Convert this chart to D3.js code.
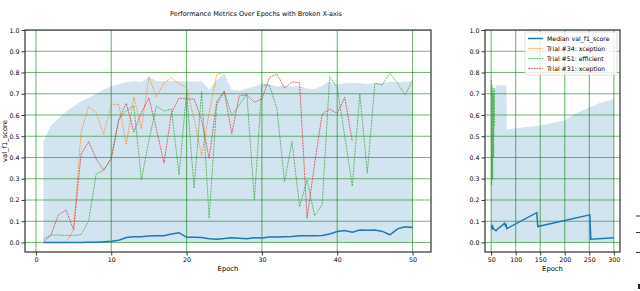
<!DOCTYPE html>
<html>
<head>
<meta charset="utf-8">
<script src="https://cdnjs.cloudflare.com/ajax/libs/d3/7.8.5/d3.min.js"></script>
<style>
  body { margin: 0; background: #fff; }
  text { font-family: "DejaVu Sans", sans-serif; fill: #000; }
</style>
</head>
<body>
<div id="chart"></div>
<script>
// Data
var epochsLeft = d3.range(1, 51);
var medianLeft = [0.0, 0.0, 0.0, 0.0, 0.0, 0.0, 0.001, 0.001, 0.003, 0.006,
    0.01, 0.023, 0.027, 0.027, 0.03, 0.031, 0.032, 0.04, 0.046, 0.024,
    0.024, 0.023, 0.017, 0.015, 0.018, 0.022, 0.02, 0.017, 0.022, 0.021,
    0.026, 0.026, 0.027, 0.028, 0.031, 0.032, 0.032, 0.033, 0.04, 0.051,
    0.056, 0.048, 0.058, 0.057, 0.058, 0.052, 0.036, 0.064, 0.074, 0.07];
var upperLeft = [0.48, 0.55, 0.585, 0.615, 0.64, 0.665, 0.68, 0.7, 0.72, 0.735,
    0.745, 0.755, 0.76, 0.755, 0.78, 0.76, 0.76, 0.76, 0.76, 0.757,
    0.757, 0.76, 0.717, 0.765, 0.796, 0.717, 0.714, 0.725, 0.733, 0.749,
    0.746, 0.733, 0.738, 0.733, 0.736, 0.725, 0.722, 0.736, 0.757, 0.744,
    0.749, 0.75, 0.749, 0.746, 0.749, 0.749, 0.757, 0.754, 0.757, 0.757];
var trial34 = [0.0, 0.0, 0.0, 0.0, 0.06, 0.52, 0.64, 0.61, 0.51, 0.65,
    0.65, 0.46, 0.685, 0.535, 0.78, 0.685, 0.75, 0.776, 0.745, 0.73,
    0.58, 0.41, 0.61, 0.79, 0.8];
var trial51 = [0.015, 0.035, 0.035, 0.033, 0.033, 0.037, 0.1, 0.322, 0.34, 0.395,
    0.58, 0.62, 0.643, 0.295, 0.48, 0.642, 0.618, 0.628, 0.318, 0.705,
    0.255, 0.71, 0.114, 0.647, 0.71, 0.597, 0.647, 0.7, 0.2, 0.74,
    0.74, 0.63, 0.286, 0.475, 0.168, 0.294, 0.126, 0.176, 0.78, 0.73,
    0.5, 0.265, 0.7, 0.326, 0.75, 0.742, 0.796, 0.75, 0.694, 0.765];
var trial31 = [0.0, 0.035, 0.13, 0.153, 0.06, 0.415, 0.475, 0.393, 0.34, 0.396,
    0.577, 0.655, 0.52, 0.61, 0.68, 0.534, 0.373, 0.61, 0.68, 0.675,
    0.675, 0.576, 0.395, 0.663, 0.712, 0.512, 0.69, 0.695, 0.66, 0.675,
    0.777, 0.793, 0.727, 0.755, 0.752, 0.114, 0.37, 0.605, 0.627, 0.608,
    0.683, 0.476];

// Right panel (epochs 50+)
var medianRightEpochs = [50, 51, 52, 53, 55, 57, 60, 65, 70, 75, 77, 79, 80, 82, 143, 145, 251, 253, 300];
var medianRight = [0.07, 0.075, 0.06, 0.075, 0.065, 0.06, 0.055, 0.068, 0.075, 0.085, 0.09, 0.08, 0.088, 0.065, 0.14, 0.075, 0.13, 0.015, 0.022];
var upperRightEpochs = [50, 60, 61, 81, 82, 100, 130, 160, 190, 200, 210, 230, 250, 270, 300];
var upperRight = [0.725, 0.725, 0.74, 0.74, 0.532, 0.537, 0.545, 0.555, 0.57, 0.575, 0.59, 0.615, 0.635, 0.655, 0.675];
var trial51RightEpochs = [50, 51, 52, 53, 54, 55, 56, 57];
var trial51Right = [0.765, 0.27, 0.74, 0.3, 0.7, 0.4, 0.725, 0.55];

var yTicks = [0.0, 0.1, 0.2, 0.3, 0.4, 0.5, 0.6, 0.7, 0.8, 0.9, 1.0];
var leftTicks = [0, 10, 20, 30, 40, 50];
var rightTicks = [50, 100, 150, 200, 250, 300];

var legendNames = ["Median val_f1_score", "Trial #34: xception", "Trial #51: efficient", "Trial #31: xception"];
var legendColors = ["#1f77b4", "#ff7f0e", "#2ca02c", "#d62728"];

// Set chart parameters
var svgWidth = 640;
var svgHeight = 291;
var plotTop = 30, plotBottom = 252;

var svg = d3.select("#chart")
    .append("svg")
    .attr("width", svgWidth)
    .attr("height", svgHeight);

var yScale = d3.scaleLinear().domain([-0.045, 1.0]).range([plotBottom, plotTop]);

var xLeft = d3.scaleLinear().domain([-1.45, 52.45]).range([25, 431]);
var xRight = d3.scaleLinear().domain([37.5, 312.5]).range([485, 620]);

function zip(xs, ys) {
    return ys.map(function(v, i) { return {e: xs[i], v: v}; });
}

function drawPanel(id, x, ticks, parts) {
    var x0 = x.range()[0], x1 = x.range()[1];
    var g = svg.append("g");

    svg.append("clipPath").attr("id", id)
        .append("rect")
        .attr("x", x0).attr("y", plotTop)
        .attr("width", x1 - x0).attr("height", plotBottom - plotTop);

    var plot = g.append("g").attr("clip-path", "url(#" + id + ")");

    // band
    var area = d3.area()
        .x(d => x(d.e))
        .y0(yScale(0))
        .y1(d => yScale(d.v));
    plot.append("path")
        .datum(parts.band)
        .attr("d", area)
        .attr("fill", "#1f77b4")
        .attr("fill-opacity", 0.2);

    // grid
    plot.selectAll(".hgrid").data(yTicks).enter().append("line")
        .attr("x1", x0).attr("x2", x1)
        .attr("y1", d => yScale(d)).attr("y2", d => yScale(d))
        .attr("stroke", "green").attr("stroke-opacity", 0.55).attr("stroke-width", 1.1);
    plot.selectAll(".vgrid").data(ticks).enter().append("line")
        .attr("x1", d => x(d)).attr("x2", d => x(d))
        .attr("y1", plotTop).attr("y2", plotBottom)
        .attr("stroke", "green").attr("stroke-opacity", 0.55).attr("stroke-width", 1.1);

    var line = d3.line().x(d => x(d.e)).y(d => yScale(d.v));

    // trials
    parts.trials.forEach(function(t) {
        plot.append("path")
            .datum(t.data)
            .attr("d", line)
            .attr("fill", "none")
            .attr("stroke", t.color)
            .attr("stroke-width", 0.9)
            .attr("stroke-opacity", 0.75)
            .attr("stroke-dasharray", "2,0.8");
    });

    // median
    plot.append("path")
        .datum(parts.median)
        .attr("d", line)
        .attr("fill", "none")
        .attr("stroke", "#1f77b4")
        .attr("stroke-width", 1.5);

    // axes
    var bottomAxis = d3.axisBottom(x).tickValues(ticks).tickFormat(d3.format("d")).tickSize(3.5).tickPadding(2);
    var leftAxis = d3.axisLeft(yScale).tickValues(yTicks).tickFormat(d3.format(".1f")).tickSize(3.5).tickPadding(2);

    var bx = g.append("g")
        .attr("transform", `translate(0, ${plotBottom})`)
        .call(bottomAxis);
    var ly = g.append("g")
        .attr("transform", `translate(${x0}, 0)`)
        .call(leftAxis);
    [bx, ly].forEach(function(a) {
        a.select(".domain").remove();
        a.selectAll("text").attr("font-size", "6.3px").attr("fill", "#000");
        a.selectAll("line").attr("stroke", "#000").attr("stroke-width", 0.8);
    });

    // frame
    g.append("rect")
        .attr("x", x0).attr("y", plotTop)
        .attr("width", x1 - x0).attr("height", plotBottom - plotTop)
        .attr("fill", "none")
        .attr("stroke", "#333")
        .attr("stroke-width", 1.2);

    g.append("text")
        .attr("x", (x0 + x1) / 2)
        .attr("y", 271)
        .attr("text-anchor", "middle")
        .attr("font-size", "6.8px")
        .text("Epoch");

    return g;
}

drawPanel("clipLeft", xLeft, leftTicks, {
    band: zip(epochsLeft, upperLeft),
    median: zip(epochsLeft, medianLeft),
    trials: [
        {data: zip(epochsLeft, trial34), color: "#ff7f0e"},
        {data: zip(epochsLeft, trial51), color: "#2ca02c"},
        {data: zip(epochsLeft, trial31), color: "#d62728"}
    ]
});

var rightPanel = drawPanel("clipRight", xRight, rightTicks, {
    band: zip(upperRightEpochs, upperRight),
    median: zip(medianRightEpochs, medianRight),
    trials: [
        {data: zip(trial51RightEpochs, trial51Right), color: "#2ca02c"}
    ]
});

// y label
svg.append("text")
    .attr("transform", "translate(7, 141) rotate(-90)")
    .attr("text-anchor", "middle")
    .attr("font-size", "6.8px")
    .text("val_f1_score");

// title
svg.append("text")
    .attr("x", 256)
    .attr("y", 16)
    .attr("text-anchor", "middle")
    .attr("font-size", "6.5px")
    .text("Performance Metrics Over Epochs with Broken X-axis");

// legend
var legend = rightPanel.append("g").attr("transform", "translate(525, 32)");
legend.append("rect")
    .attr("width", 92).attr("height", 43)
    .attr("rx", 1.5)
    .attr("fill", "#fff").attr("fill-opacity", 0.8)
    .attr("stroke", "#ccc").attr("stroke-width", 0.6);
legendNames.forEach(function(name, i) {
    var yy = 6.5 + i * 10;
    legend.append("line")
        .attr("x1", 3).attr("x2", 18)
        .attr("y1", yy).attr("y2", yy)
        .attr("stroke", legendColors[i])
        .attr("stroke-width", i === 0 ? 1.5 : 0.9)
        .attr("stroke-opacity", i === 0 ? 1 : 0.75)
        .attr("stroke-dasharray", i === 0 ? null : "2,0.8");
    legend.append("text")
        .attr("x", 22).attr("y", yy + 2.2)
        .attr("font-size", "6.2px")
        .text(name);
});

// clipped marks at the right edge
[216, 232.5, 252.5].forEach(function(yy) {
    svg.append("line")
        .attr("x1", 636).attr("x2", 640)
        .attr("y1", yy).attr("y2", yy)
        .attr("stroke", "#000").attr("stroke-width", 0.8);
});
svg.append("rect")
    .attr("x", 638).attr("y", 284).attr("width", 2).attr("height", 5)
    .attr("fill", "#222");
</script>
</body>
</html>
